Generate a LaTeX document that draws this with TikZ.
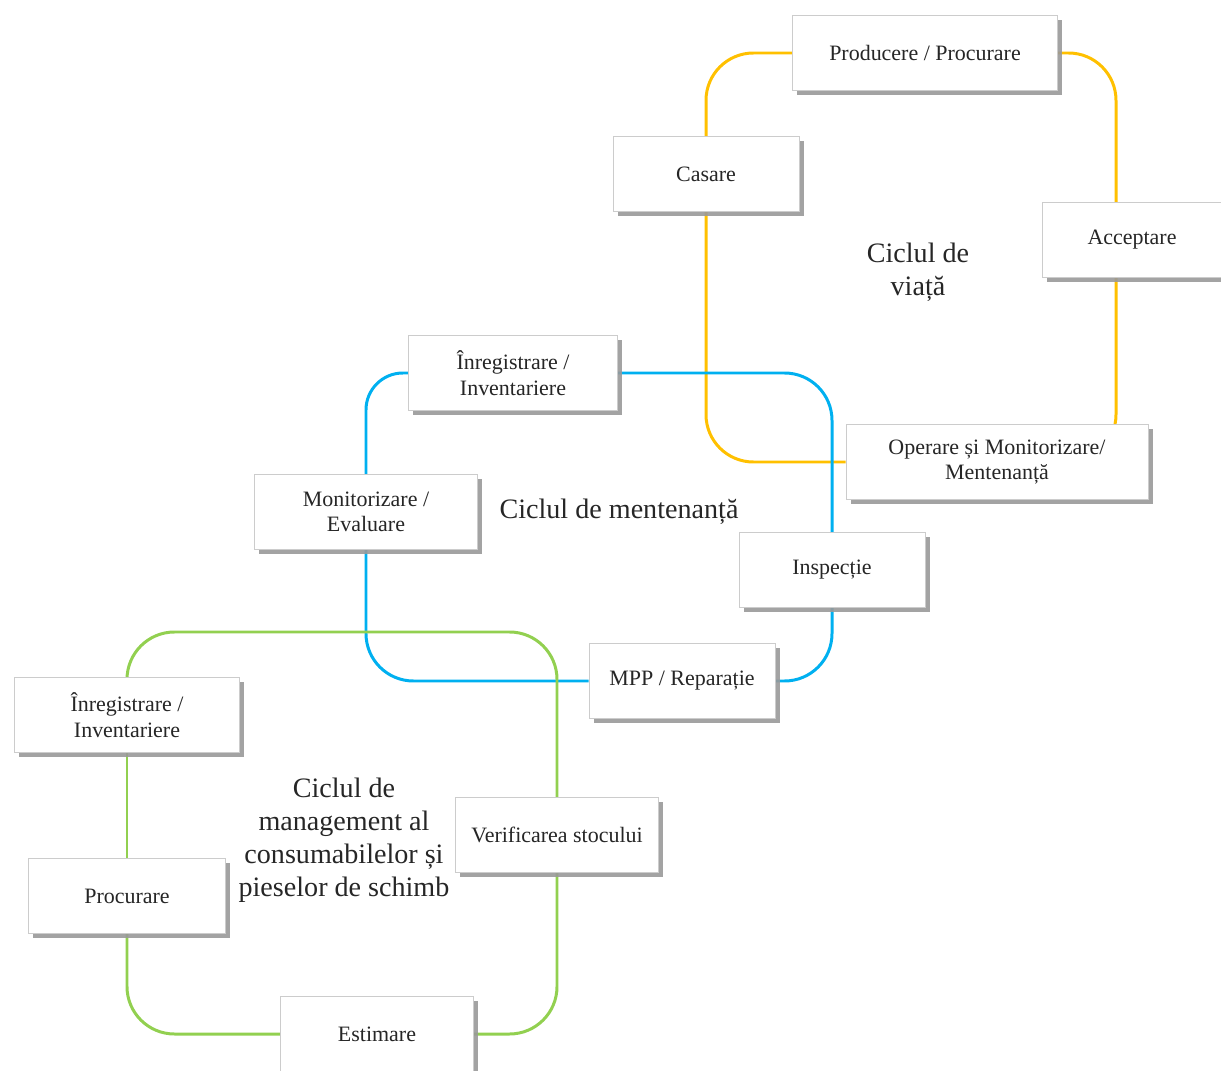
\documentclass[tikz,border=0pt]{standalone}
\usepackage{fontspec}
\setmainfont{Liberation Serif}
\usetikzlibrary{shadows,backgrounds}
\definecolor{lifegold}{HTML}{FFC000}
\definecolor{mentblue}{HTML}{00B0F0}
\definecolor{mgmtgreen}{HTML}{92D050}

\begin{document}
\begin{tikzpicture}[x=0.02cm,y=-0.02cm]
    \tikzset{phase/.style={draw=black!20,fill=white,line width=0.4pt,minimum height=1.5cm,align=center,
        font=\fontsize{12.5}{14.5}\selectfont,text=black!85,
        drop shadow={shadow xshift=2.6pt,shadow yshift=-2.6pt,fill=black!40,opacity=0.9}},
      cycleloop/.style={line width=1.7pt,rounded corners=27pt},
      cyclelabel/.style={align=center,font=\fontsize{16}{18.7}\selectfont,text=black!85}}
    \useasboundingbox (0,0) rectangle (1221,1071);
    % ciclul de viata
    \node[phase,minimum width=5.3cm] (prod) at (925,53) {Producere / Procurare};
    \node[phase,minimum width=3.72cm] (casare) at (706,174) {Casare};
    \node[phase,minimum width=3.6cm] (accept) at (1132,240) {Acceptare};
    \node[phase,minimum width=6.04cm] (operare) at (997,462) {Operare și Monitorizare/\\Mentenanță};
    \coordinate (yright) at (1116,240);
    \node[cyclelabel] (lifelbl) at (918,272) {Ciclul de\\viață};
    % ciclul de mentenanta
    \node[phase,minimum width=4.18cm] (inregA) at (513,373) {Înregistrare /\\Inventariere};
    \node[phase,minimum width=4.46cm] (monit) at (366,512) {Monitorizare /\\Evaluare};
    \node[phase,minimum width=3.72cm] (insp) at (832,570) {Inspecție};
    \node[phase,minimum width=3.72cm] (mpp) at (682,681) {MPP / Reparație};
    \node[cyclelabel] (mentlbl) at (619,512) {Ciclul de mentenanță};
    % ciclul de management
    \node[phase,minimum width=4.5cm] (inregB) at (127,715) {Înregistrare /\\Inventariere};
    \node[phase,minimum width=3.94cm] (procur) at (127,896) {Procurare};
    \node[phase,minimum width=4.06cm] (verif) at (557,835) {Verificarea stocului};
    \node[phase,minimum width=3.86cm] (estim) at (377,1034) {Estimare};
    \coordinate (gtop) at (340,632);
    \node[cyclelabel] (mgmtlbl) at (344,840) {Ciclul de\\management al\\consumabilelor și\\pieselor de schimb};
    \begin{pgfonlayer}{background}
      \draw[cycleloop,lifegold] (prod.west) -| (casare.north);
      \draw[cycleloop,lifegold] (casare.south) |- (operare.west);
      \draw[cycleloop,lifegold] (prod.east) -| (yright);
      \draw[cycleloop,lifegold] (yright) |- (operare.center);
      \draw[cycleloop,mentblue,rounded corners=21pt] (inregA.west) -| (monit.north);
      \draw[cycleloop,mentblue] (monit.south) |- (mpp.west);
      \draw[cycleloop,mentblue] (inregA.east) -| (insp.north);
      \draw[cycleloop,mentblue] (insp.south) |- (mpp.east);
      \draw[cycleloop,mgmtgreen] (inregB.north) |- (gtop) -| (verif.north);
      \draw[cycleloop,mgmtgreen] (inregB.south) -- (procur.north);
      \draw[cycleloop,mgmtgreen] (procur.south) |- (estim.west);
      \draw[cycleloop,mgmtgreen] (estim.east) -| (verif.south);
    \end{pgfonlayer}
\end{tikzpicture}
\end{document}
